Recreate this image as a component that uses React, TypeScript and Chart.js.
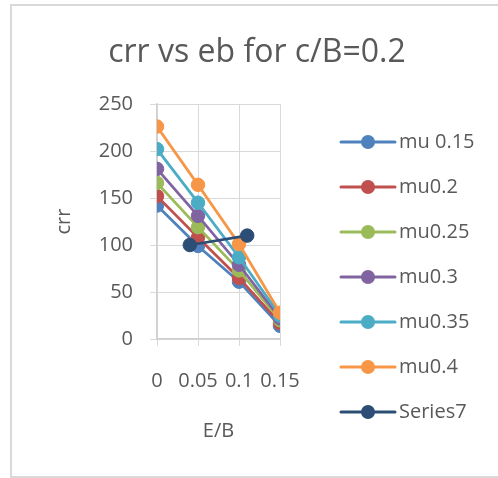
import React, { useEffect, useRef } from "react";
import { Chart, registerables } from "chart.js";

Chart.register(...registerables);

const TITLE = "crr vs eb for c/B=0.2";
const X_TITLE = "E/B";
const Y_TITLE = "crr";

const xValues = [0, 0.05, 0.1, 0.15];
const xTickLabels = ["0", "0.05", "0.1", "0.15"];
const yTickValues = [0, 50, 100, 150, 200, 250];

const seriesNames = ["mu 0.15", "mu0.2", "mu0.25", "mu0.3", "mu0.35", "mu0.4", "Series7"];
const mu015 = [142, 99, 61, 14];
const mu02 = [152, 108, 65, 17];
const mu025 = [166, 119, 73, 20];
const mu03 = [181, 131, 79, 22];
const mu035 = [202, 145, 87, 25];
const mu04 = [226, 164, 101, 28];
const series7X = [0.04, 0.11];
const series7Y = [100, 110];

const colors = ["#4F81BD", "#C0504D", "#9BBB59", "#8064A2", "#4BACC6", "#F79646", "#2C4D75"];

const FONT = "'Open Sans', 'Noto Sans', sans-serif";
const TEXT = "#595959";

const framePlugin = {
  id: "frame",
  beforeDraw(chart: any) {
    const ctx = chart.ctx;
    ctx.save();
    ctx.fillStyle = "#ffffff";
    ctx.fillRect(0, 0, chart.width, chart.height);
    ctx.strokeStyle = "#d9d9d9";
    ctx.lineWidth = 2;
    ctx.strokeRect(11, 5, chart.width + 20, chart.height - 6);
    ctx.restore();
  },
  afterDraw(chart: any) {
    const ctx = chart.ctx;
    const a = chart.chartArea;
    ctx.save();
    ctx.fillStyle = TEXT;
    ctx.font = `32px ${FONT}`;
    ctx.textAlign = "center";
    ctx.textBaseline = "middle";
    ctx.fillText(TITLE, 257, 53);

    ctx.font = `20px ${FONT}`;
    ctx.textAlign = "left";
    chart.data.datasets.forEach((ds: any, i: number) => {
      const y = a.top + 38 + i * 45;
      const x0 = a.right + 61;
      ctx.strokeStyle = ds.borderColor;
      ctx.lineWidth = 3;
      ctx.lineCap = "round";
      ctx.beginPath();
      ctx.moveTo(x0, y);
      ctx.lineTo(x0 + 54, y);
      ctx.stroke();
      ctx.fillStyle = ds.borderColor;
      ctx.beginPath();
      ctx.arc(x0 + 27, y, 7, 0, Math.PI * 2);
      ctx.fill();
      ctx.fillStyle = TEXT;
      ctx.fillText(ds.label, x0 + 58, y);
    });
    ctx.restore();
  },
};

export default function App() {
  const ref = useRef<HTMLCanvasElement | null>(null);
  useEffect(() => {
    if (!ref.current) return;
    const ys = [mu015, mu02, mu025, mu03, mu035, mu04];
    const datasets: any[] = ys.map((arr, i) => ({
      label: seriesNames[i],
      data: arr.map((v, j) => ({ x: xValues[j], y: v })),
      borderColor: colors[i],
      backgroundColor: colors[i],
      order: 7 - i,
    }));
    datasets.push({
      label: seriesNames[6],
      data: series7Y.map((v, j) => ({ x: series7X[j], y: v })),
      borderColor: colors[6],
      backgroundColor: colors[6],
      order: 0,
    });
    datasets.forEach((d) => {
      d.showLine = true;
      d.borderWidth = 2.75;
      d.pointRadius = 6.75;
      d.pointBorderWidth = 1;
      d.pointBorderColor = d.borderColor;
      d.pointBackgroundColor = d.borderColor;
    });
    const chart = new Chart(ref.current, {
      type: "scatter",
      data: { datasets },
      plugins: [framePlugin],
      options: {
        animation: false,
        responsive: false,
        devicePixelRatio: 1,
        layout: { padding: { left: 0, top: 104, right: 218, bottom: 35 } },
        plugins: { legend: { display: false }, title: { display: false }, tooltip: { enabled: false } },
        scales: {
          x: {
            type: "linear",
            min: 0,
            max: 0.15,
            afterFit: (s: any) => { s.height = 104; },
            afterBuildTicks: (s: any) => { s.ticks = xValues.map((v) => ({ value: v })); },
            ticks: {
              autoSkip: false,
              maxRotation: 0,
              padding: 23,
              color: TEXT,
              font: { family: FONT, size: 20 },
              callback: (_v: any, i: number) => xTickLabels[i],
            },
            grid: { color: "#d9d9d9", lineWidth: 1, tickLength: 7, drawTicks: true },
            border: { color: "#d0d0d0", width: 1.5 },
            title: { display: true, text: X_TITLE, color: TEXT, font: { family: FONT, size: 20 }, padding: 0 },
          },
          y: {
            type: "linear",
            min: 0,
            max: 250,
            afterFit: (s: any) => { s.width = 157; },
            afterBuildTicks: (s: any) => { s.ticks = yTickValues.map((v) => ({ value: v })); },
            ticks: {
              padding: 17,
              color: TEXT,
              font: { family: FONT, size: 20 },
            },
            grid: { color: "#d9d9d9", lineWidth: 1, tickLength: 7, drawTicks: true },
            border: { color: "#d0d0d0", width: 1.5 },
            title: { display: true, text: Y_TITLE, color: TEXT, font: { family: FONT, size: 20 }, padding: { top: 52, bottom: 0 } },
          },
        },
      } as any,
    });
    return () => chart.destroy();
  }, []);
  return (
    <div style={{ position: "absolute", left: 0, top: 0, width: 498, height: 478 }}>
      <canvas ref={ref} width={498} height={478} />
    </div>
  );
}
